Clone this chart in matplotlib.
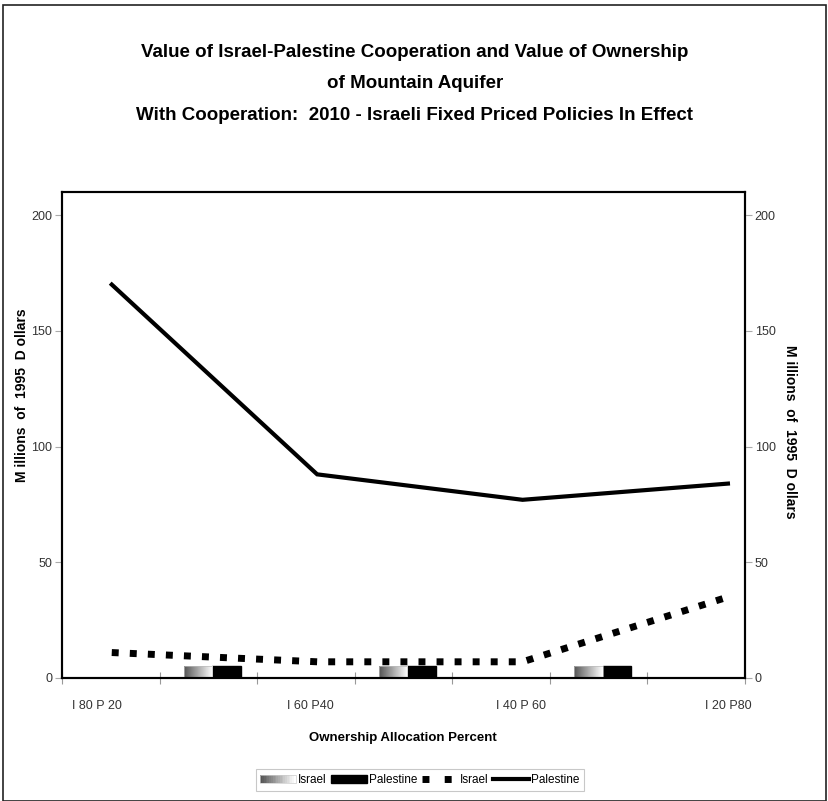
# coding: utf-8

import numpy as np
import matplotlib
matplotlib.use('Agg')
import matplotlib.pyplot as plt
from matplotlib.patches import Rectangle
from matplotlib.lines import Line2D
from matplotlib.legend_handler import HandlerBase
from matplotlib.colors import LinearSegmentedColormap


# donnees
categories = ['I 80 P 20', 'I 60 P40', 'I 40 P 60', 'I 20 P80']
palestine_line = [170, 88, 77, 84]
israel_line = [11, 7, 7, 35]

bar_groups = [1, 3, 5]          # categories (sur 7) qui portent des barres
israel_bars = [5, 5, 5]
palestine_bars = [5, 5, 5]

FONT = ['Liberation Sans', 'DejaVu Sans']
plt.rcParams['font.family'] = FONT

grad = LinearSegmentedColormap.from_list('grad', ['#555555', '#ffffff'])


class HandlerGradient(HandlerBase):
    def create_artists(self, legend, orig, xd, yd, w, h, fs, trans):
        arts = []
        n = 20
        for k in range(n):
            r = Rectangle((xd + k * w / n, yd), w / n, h,
                          facecolor=grad(k / (n - 1)), edgecolor='none',
                          transform=trans)
            arts.append(r)
        arts.append(Rectangle((xd, yd), w, h, facecolor='none',
                              edgecolor='#cccccc', lw=0.5, transform=trans))
        return arts


def main():
    fig = plt.figure(figsize=(8.29, 8.01), dpi=100)
    ax = fig.add_axes([62 / 829, 1 - 678 / 801, 683 / 829, 486 / 801])

    # cadre exterieur
    fig.patches.append(Rectangle((3 / 829, 0), 823 / 829, 1 - 5 / 801,
                                 transform=fig.transFigure, fill=False,
                                 edgecolor='#222222', lw=1.2))

    ymax = 210
    ax.set_xlim(0, 7)
    ax.set_ylim(0, ymax)

    # barres
    centers = np.array(bar_groups) + 0.54
    w = 0.29
    b1 = ax.bar(centers - w / 2, israel_bars, width=w, color='none',
                edgecolor='none', zorder=2)
    ax.bar(centers + w / 2, palestine_bars, width=w, color='black',
           edgecolor='black', zorder=2)
    gradimg = np.linspace(0, 1, 64).reshape(1, -1)
    for rect in b1:
        x0, y0 = rect.get_x(), rect.get_y()
        im = ax.imshow(gradimg, cmap=grad, aspect='auto', zorder=2,
                       extent=(x0, x0 + rect.get_width(), y0, y0 + rect.get_height()))
        im.set_clip_path(rect)
        rect.set_edgecolor('#bbbbbb')
        rect.set_linewidth(0.5)
        rect.set_zorder(3)
    ax.set_xlim(0, 7)
    ax.set_ylim(0, ymax)

    # lignes
    xl = 0.51 + 2.105 * np.arange(len(categories))
    ax.plot(xl, israel_line, color='black', lw=5,
            linestyle=(0, (1, 1.6)), dash_capstyle='butt', zorder=4)
    ax.plot(xl, palestine_line, color='black', lw=3, zorder=5,
            solid_joinstyle='miter')

    # axes
    for s in ax.spines.values():
        s.set_linewidth(1.5)
    ax.set_xticks(range(8))
    ax.set_xticklabels([])
    ax.tick_params(axis='x', direction='inout', length=8, color='#999999',
                   width=0.8)
    lab_x = [0.36, 2.55, 4.7, 6.83]
    for xx, t in zip(lab_x, categories):
        ax.text(xx, -28 / 2.315, t, ha='center', va='center', fontsize=9,
                color='#333333')

    ax.set_yticks([0, 50, 100, 150, 200])
    ax.tick_params(axis='y', direction='out', length=5, color='#aaaaaa',
                   labelsize=9, labelcolor='#333333', pad=2)
    ax2 = ax.twinx()
    ax2.set_ylim(0, ymax)
    ax2.set_yticks([0, 50, 100, 150, 200])
    ax2.tick_params(axis='y', direction='out', length=5, color='#aaaaaa',
                    labelsize=9, labelcolor='#333333', pad=2)
    for s in ax2.spines.values():
        s.set_linewidth(1.5)

    ylab = 'M illions  of  1995  D ollars'
    fig.text(22 / 829, 1 - 395 / 801, ylab, rotation=90, ha='center',
             va='center', fontsize=10, fontweight='bold')
    fig.text(790 / 829, 1 - 432 / 801, ylab, rotation=-90, ha='center',
             va='center', fontsize=10, fontweight='bold')

    fig.text(403 / 829, 1 - 738 / 801, 'Ownership Allocation Percent',
             ha='center', va='center', fontsize=9.5, fontweight='bold')

    titre = ('Value of Israel-Palestine Cooperation and Value of Ownership\n'
             'of Mountain Aquifer\n'
             'With Cooperation:  2010 - Israeli Fixed Priced Policies In Effect')
    fig.text(415 / 829, 1 - 84 / 801, titre, ha='center', va='center',
             fontsize=13.5, fontweight='bold', linespacing=2.1)

    # legende
    handles = [Rectangle((0, 0), 1, 1), Rectangle((0, 0), 1, 1, color='black'),
               Line2D([], [], color='black', lw=5, linestyle=(0, (1, 2.2)),
                      dash_capstyle='butt'),
               Line2D([], [], color='black', lw=3)]
    leg = fig.legend(handles, ['Israel', 'Palestine', 'Israel', 'Palestine'],
                     loc='center', bbox_to_anchor=(420 / 829, 1 - 780 / 801),
                     ncol=4, frameon=True, fancybox=False, fontsize=8.5,
                     handlelength=3.0, handletextpad=0.2, columnspacing=0.4,
                     borderpad=0.4, handler_map={handles[0]: HandlerGradient()})
    leg.get_frame().set_edgecolor('#bbbbbb')
    leg.get_frame().set_linewidth(0.8)

    fig.savefig('out.png', dpi=100)


if __name__ == "__main__":
    main()
